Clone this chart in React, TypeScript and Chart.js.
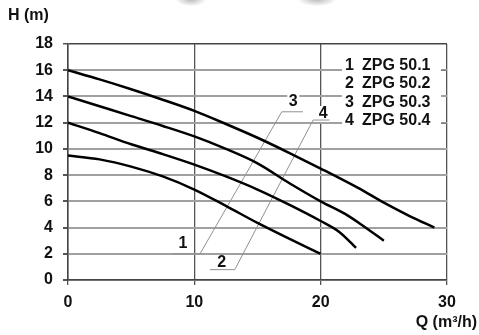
import React, { useEffect, useRef } from "react";
import { Chart, registerables } from "chart.js";

Chart.register(...registerables);

// Pump curves: flow Q (m³/h) and head H (m)
const seriesNumbers = ["1", "2", "3", "4"];
const seriesNames = ["ZPG 50.1", "ZPG 50.2", "ZPG 50.3", "ZPG 50.4"];

const q1 = [0, 2.5, 5, 7.5, 10, 12.5, 15, 17.5, 20];
const h1 = [9.5, 9.2, 8.65, 7.9, 6.9, 5.65, 4.35, 3.15, 2.0];
const q2 = [0, 2.5, 5, 7.5, 10, 12.5, 15, 17.5, 20, 21.5, 22.8];
const h2 = [12.0, 11.2, 10.35, 9.6, 8.8, 7.9, 6.9, 5.75, 4.5, 3.65, 2.45];
const q3 = [0, 2.5, 5, 7.5, 10, 12.5, 15, 17.5, 20, 22, 23.4, 25];
const h3 = [14.0, 13.25, 12.5, 11.75, 10.95, 10.0, 8.9, 7.4, 6.0, 5.0, 4.1, 3.0];
const q4 = [0, 2.5, 5, 7.5, 10, 12.5, 15, 17.5, 20, 23, 25, 27, 29];
const h4 = [16.0, 15.3, 14.55, 13.75, 12.9, 11.9, 10.85, 9.7, 8.5, 7.0, 5.9, 4.9, 4.0];

const xTicks = [0, 10, 20, 30];
const yTicks = [0, 2, 4, 6, 8, 10, 12, 14, 16, 18];
const yTitle = "H (m)";
const xTitle = "Q (m³/h)";

// Leader lines for curve labels (in data units)
const leaderA = [[8.31, 2.0], [10.45, 2.0], [16.92, 12.83], [18.6, 12.83]];
const leaderB = [[11.23, 0.79], [13.2, 0.79], [19.4, 12.2], [20.7, 12.2]];
const curveLabels = [
  { t: "1", q: 9.1, h: 2.75 },
  { t: "2", q: 12.17, h: 1.32 },
  { t: "3", q: 17.83, h: 13.6 },
  { t: "4", q: 20.2, h: 12.66 },
];

const FONT = '"Liberation Sans", Arial, sans-serif';

const toPts = (q: number[], h: number[]) => q.map((x, i) => ({ x, y: h[i] }));

const overlay = {
  id: "overlay",
  beforeDatasetsDraw(chart: any) {
    const { ctx, scales } = chart;
    const xs = scales.x, ys = scales.y;
    const px = (q: number) => xs.getPixelForValue(q);
    const py = (h: number) => ys.getPixelForValue(h);
    ctx.save();
    ctx.fillStyle = "#fff";
    ctx.fillRect(342, 55, 99, 74);
    curveLabels.forEach((l) => {
      if (l.t === "3" || l.t === "4") {
        ctx.fillRect(px(l.q) - 6, py(l.h) - 8, 12, 16);
      }
    });
    ctx.strokeStyle = "#909090";
    ctx.lineWidth = 1;
    [leaderA, leaderB].forEach((ln) => {
      ctx.beginPath();
      ln.forEach(([q, h], i) => {
        if (i === 0) ctx.moveTo(px(q), py(h));
        else ctx.lineTo(px(q), py(h));
      });
      ctx.stroke();
    });
    ctx.restore();
  },
  afterDraw(chart: any) {
    const { ctx, scales } = chart;
    const xs = scales.x, ys = scales.y;
    ctx.save();
    ctx.fillStyle = "#111";
    ctx.font = `bold 16px ${FONT}`;
    ctx.textBaseline = "middle";
    ctx.textAlign = "center";
    curveLabels.forEach((l) => {
      ctx.fillText(l.t, xs.getPixelForValue(l.q), ys.getPixelForValue(l.h));
    });
    ctx.textAlign = "left";
    const rowY = [65.5, 84, 102.5, 121];
    seriesNames.forEach((n, i) => {
      ctx.fillText(seriesNumbers[i], 345, rowY[i]);
      ctx.fillText(n, 362, rowY[i]);
    });
    ctx.strokeStyle = "#777";
    ctx.lineWidth = 1;
    [70.4, 123.3].forEach((y) => {
      ctx.beginPath();
      ctx.moveTo(441, y);
      ctx.lineTo(447, y);
      ctx.stroke();
    });
    ctx.textAlign = "left";
    ctx.fillText(yTitle, 8, 16);
    ctx.textAlign = "right";
    ctx.fillText(xTitle, 477, 323);
    ctx.restore();
  },
};

export default function App() {
  const ref = useRef<HTMLCanvasElement | null>(null);
  useEffect(() => {
    if (!ref.current) return;
    const series = [toPts(q1, h1), toPts(q2, h2), toPts(q3, h3), toPts(q4, h4)];
    const chart = new Chart(ref.current, {
      type: "line",
      data: {
        datasets: series.map((d, i) => ({
          label: seriesNames[i],
          data: d,
          borderColor: "#000",
          borderWidth: 2.5,
          pointRadius: 0,
          fill: false,
          tension: 0.4,
          cubicInterpolationMode: "monotone" as const,
        })),
      },
      options: {
        animation: false,
        responsive: false,
        layout: { padding: { left: 0, top: 44, right: 32, bottom: 0 } },
        plugins: { legend: { display: false }, tooltip: { enabled: false } },
        scales: {
          x: {
            type: "linear",
            min: 0,
            max: 30,
            afterBuildTicks: (s: any) => {
              s.ticks = xTicks.map((v) => ({ value: v }));
            },
            afterFit: (s: any) => {
              s.height = 55;
            },
            ticks: {
              color: "#111",
              font: { family: FONT, size: 16, weight: "bold" },
              padding: 8,
              maxRotation: 0,
            },
            grid: { color: "#555", lineWidth: 1.3, tickLength: 5, tickColor: "#555" },
            border: { color: "#444", width: 1.5 },
          },
          y: {
            type: "linear",
            min: 0,
            max: 18,
            afterBuildTicks: (s: any) => {
              s.ticks = yTicks.map((v) => ({ value: v }));
            },
            afterFit: (s: any) => {
              s.width = 68;
            },
            ticks: {
              color: "#111",
              font: { family: FONT, size: 16, weight: "bold" },
              padding: 10,
            },
            grid: {
              color: (c: any) => (c.tick && c.tick.value === 18 ? "#444" : "#a0a0a0"),
              lineWidth: (c: any) => (c.tick && c.tick.value === 18 ? 1.5 : 2),
              tickLength: 5,
              tickColor: "#555",
            },
            border: { color: "#444", width: 1.5 },
          },
        },
      },
      plugins: [overlay],
    });
    return () => chart.destroy();
  }, []);

  const blob = (left: number, w: number) => (
    <div
      style={{
        position: "absolute",
        left,
        top: -8,
        width: w,
        height: 14,
        borderRadius: "50%",
        background: "radial-gradient(ellipse at center, rgba(120,120,120,0.55) 0%, rgba(160,160,160,0.25) 50%, rgba(255,255,255,0) 75%)",
        pointerEvents: "none",
      }}
    />
  );

  return (
    <div style={{ position: "fixed", left: 0, top: 0, width: 479, height: 335, background: "#fff", overflow: "hidden" }}>
      <canvas ref={ref} width={479} height={335} style={{ display: "block" }} />
      {blob(176, 30)}
      {blob(298, 38)}
    </div>
  );
}
